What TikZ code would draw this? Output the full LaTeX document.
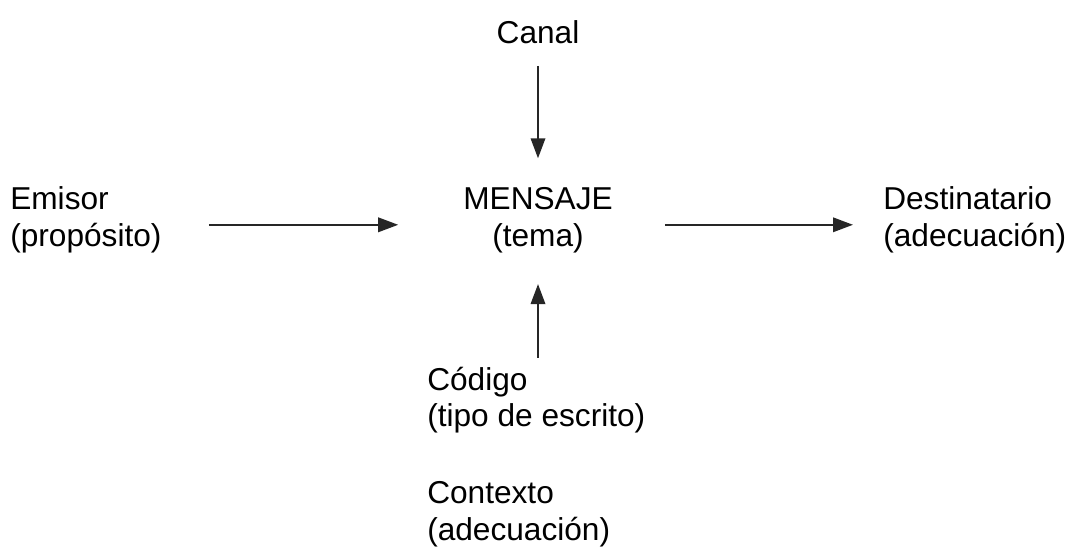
\documentclass[tikz,border=0pt]{standalone}
\usepackage{fontspec}
\setmainfont{Liberation Sans}
\usetikzlibrary{shapes,arrows.meta}

\begin{document}
\begin{tikzpicture} [txt/.style={inner sep=0pt,font=\fontsize{22.5pt}{26pt}\selectfont},
	flecha/.style={line width=1.5pt,color=black!85,-{Triangle[length=0.5cm,width=0.36cm]}}]
		\useasboundingbox (0,0) rectangle (26.8,13.85);
		\node [txt,align=center] (canal) at (13.45,13.05) {Canal};
		\node [txt,align=center] (mensaje) at (13.45,8.35) {MENSAJE\\(tema)};
		\node [txt,align=left,anchor=west] (emisor) at (0.25,8.35) {Emisor\\(propósito)};
		\node [txt,align=left,anchor=west] (destino) at (22.075,8.35) {Destinatario\\(adecuación)};
		\node [txt,align=left,anchor=west] (codigo) at (10.675,3.85) {Código\\(tipo de escrito)};
		\node [txt,align=left,anchor=west] (contexto) at (10.675,1.0) {Contexto\\(adecuación)};
		\draw [flecha,shorten <=0.55cm,shorten >=0.72cm] (canal) -- (mensaje);
		\draw [flecha,shorten <=0.22cm,shorten >=0.78cm] (codigo.north -| mensaje) -- (mensaje);
		\draw [flecha,shorten <=1.18cm,shorten >=1.62cm] ([yshift=-0.12cm]emisor.east) -- ([yshift=-0.12cm]mensaje.west);
		\draw [flecha,shorten <=1.3cm,shorten >=0.75cm] ([yshift=-0.12cm]mensaje.east) -- ([yshift=-0.12cm]destino.west);
		\end{tikzpicture}
\end{document}
